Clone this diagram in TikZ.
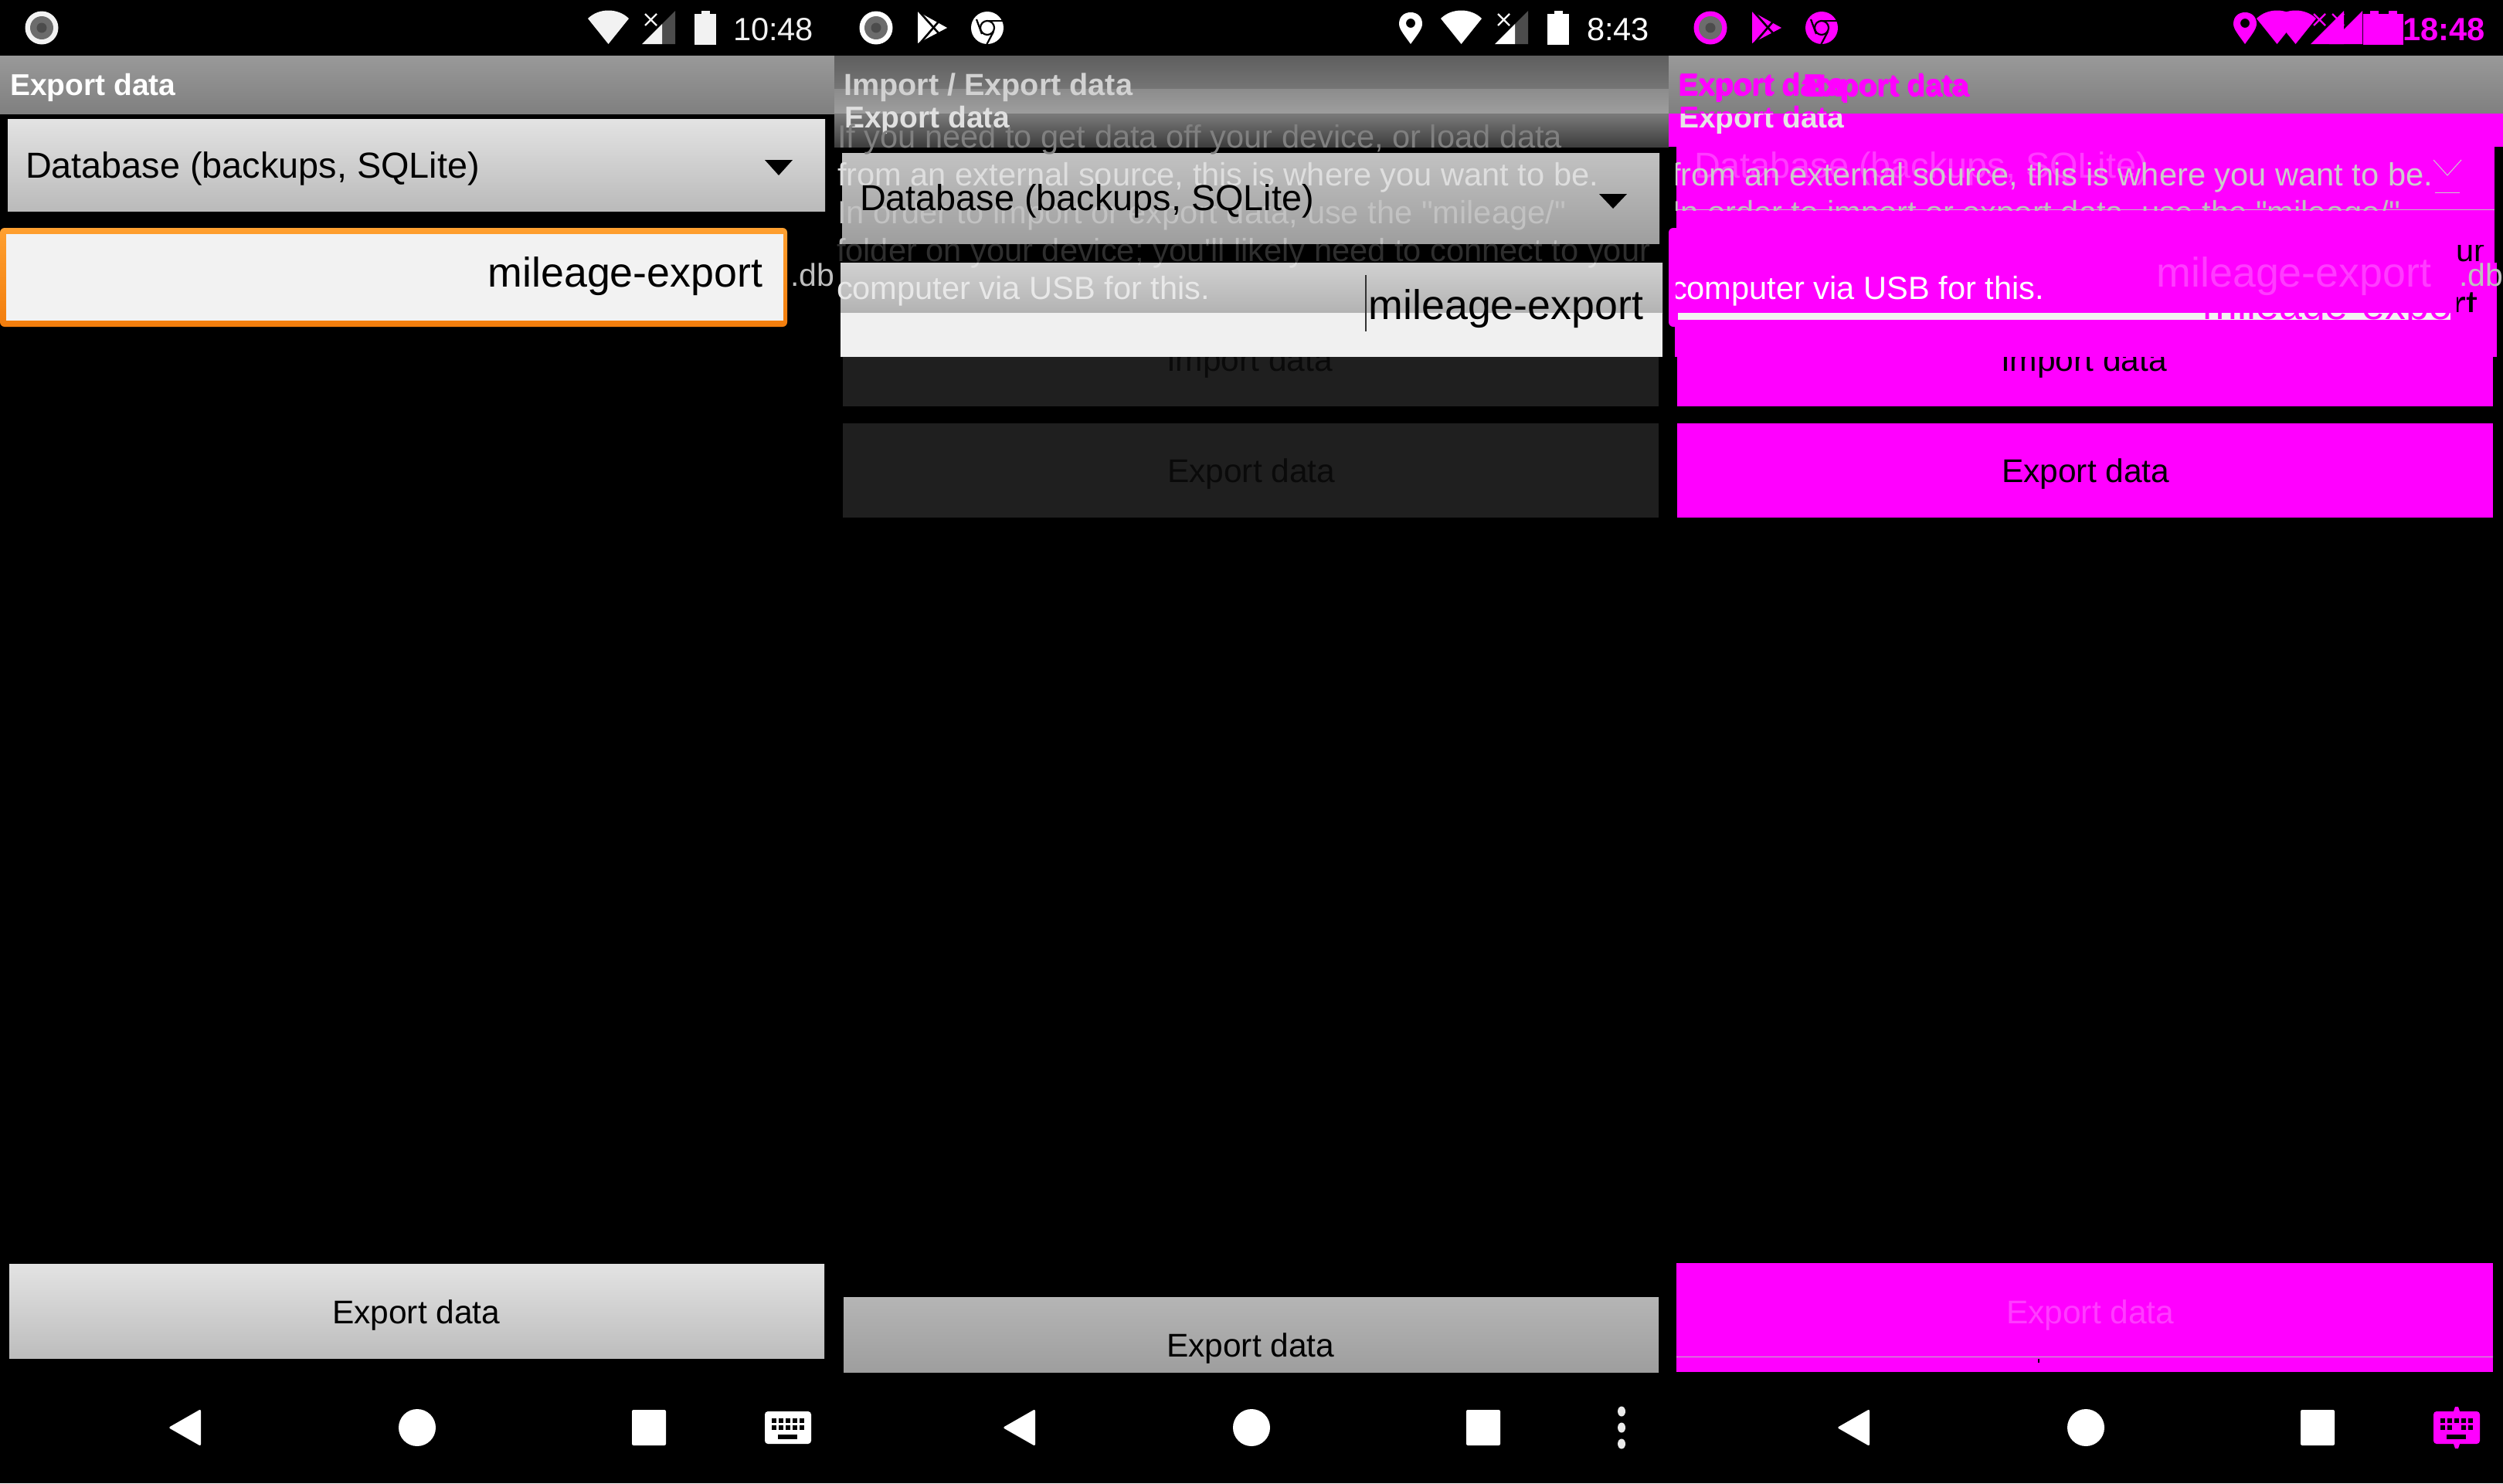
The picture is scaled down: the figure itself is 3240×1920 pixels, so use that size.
\documentclass[tikz,border=0pt]{standalone}
\usepackage{fontspec}
\setmainfont{Liberation Sans}
\newfontfamily\rb{Liberation Sans}
\newcommand\fsz[1]{\fontsize{#1}{#1}\selectfont\rb}
\definecolor{mg}{HTML}{FF00FF}
\definecolor{pale}{HTML}{FF3CFF}
\definecolor{pagr}{HTML}{F2F2F2}
\definecolor{orgtop}{HTML}{FFA030}
\definecolor{orgbot}{HTML}{F27D0C}
\tikzset{
  txt/.style={inner sep=0pt,outer sep=0pt,anchor=base west},
  txr/.style={inner sep=0pt,outer sep=0pt,anchor=base east},
  sm/.style={txt,font=\fsz{41.6}},
  btnt/.style={txt,font=\fsz{42.5}},
  big/.style={txr,font=\fsz{53.7}},
  spin/.style={txt,font=\fsz{46.8}},
  ttl/.style={txt,font=\fsz{39}\bfseries},
  clk/.style={txt,font=\fsz{41.6}},
}
% status-bar icons: #1 left x, #2 colour
\newcommand\recicon[2]{%
  \fill[#2] (#1,36) circle (21.5);
  \fill[gray!85!black] (#1,36) circle (15);
  \fill[black!70] (#1,36) circle (6.5);}
\newcommand\playicon[2]{%
  \fill[#2,line join=round] (#1,15) -- (#1+38,36) -- (#1,56) -- cycle;
  \draw[black,line width=2.6] (#1+1,14) -- (#1+27,43);
  \draw[black,line width=2.6] (#1+2,57) -- (#1+27,28);}
\newcommand\chromeicon[2]{%
  \fill[#2] (#1,36) circle (21);
  \draw[black,line width=2.2] (#1,36) circle (9);
  \draw[black,line width=2.2] (#1-14,-11+36) -- (#1-7,8+36);
  \draw[black,line width=2.2] (#1+1,-9+36) -- (#1+20,-9+36);
  \draw[black,line width=2.2] (#1+8,5+36) -- (#1-1,22+36);}
\newcommand\pinicon[2]{%
  \fill[#2,even odd rule] (#1+15,57) .. controls (#1+8,47) and (#1,38) .. (#1,31)
     .. controls (#1,21) and (#1+7,16) .. (#1+15,16)
     .. controls (#1+23,16) and (#1+30,21) .. (#1+30,31)
     .. controls (#1+30,38) and (#1+22,47) .. (#1+15,57) -- cycle
     (#1+15,30) circle (6);}
\newcommand\wifiicon[2]{%
  \fill[#2] (#1+26.5,57) -- (#1,24) .. controls (#1+14,10) and (#1+39,10) .. (#1+53,24) -- cycle;}
\newcommand\sigicon[3]{% left x, main colour, dark colour
  \fill[#3] (#1+26,31) -- (#1+43,14) -- (#1+43,57) -- (#1+26,57) -- cycle;
  \fill[#2] (#1,57) -- (#1+26,31) -- (#1+26,57) -- cycle;
  \draw[#2,line width=2.2] (#1+4,18) -- (#1+19,33) (#1+19,18) -- (#1+4,33);}
\newcommand\baticon[2]{%
  \fill[#2] (#1,18) rectangle (#1+28,58);
  \fill[#2] (#1+9,14) rectangle (#1+20,18);}
% navigation bar: #1 x offset
\newcommand\navbar[1]{%
  \fill[white,rounded corners=2.5] (#1+260,1824) -- (#1+218,1848) -- (#1+260,1872) -- cycle;
  \fill[white] (#1+540,1848) circle (24);
  \fill[white,rounded corners=2] (#1+818,1825) rectangle (#1+862,1871);}
\begin{document}
\begin{tikzpicture}[x=1pt,y=-1pt]
\useasboundingbox (0,0) rectangle (3240,1920);
\fill[black] (0,0) rectangle (3240,1920);

%%%%%%%%%%%%%%% PANEL 1
\recicon{54}{pagr}
\wifiicon{761}{pagr}
\sigicon{831}{pagr}{black!70}
\baticon{899}{pagr}
\node[clk,text=pagr] (t1) at (949,52) {10:48};
\fill[top color=black!40,bottom color=black!50] (0,72) rectangle (1080,147);
\node[ttl,text=white] (h1) at (13,123) {Export data};
\fill[top color=black!11,bottom color=black!27] (10,154) rectangle (1068,273);
\node[spin] (s1) at (33,230) {Database (backups, SQLite)};
\fill[black] (990,207) -- (1026,207) -- (1008,227) -- cycle;
\fill[top color=orgtop,bottom color=orgbot,rounded corners=6] (0,295) rectangle (1019,423);
\fill[pagr] (8,303) rectangle (1014,415);
\node[big] (m1) at (987,371) {mileage-export};
\node[txt,font=\fsz{41},text=black!25] (d1) at (1023,370) {.db};
\fill[top color=black!11,bottom color=black!26] (12,1636) rectangle (1067,1758);
\node[btnt] (b1) at (430,1713) {Export data};
\navbar{0}
\fill[white,rounded corners=4] (990,1827) rectangle (1050,1869);
\foreach \i in {0,...,4}{
  \fill[black] (999+\i*9,1836) rectangle (1005+\i*9,1842);
  \fill[black] (999+\i*9,1845) rectangle (1005+\i*9,1851);}
\fill[black] (1007,1857) rectangle (1032,1863);

%%%%%%%%%%%%%%% PANEL 2
\recicon{1134}{white}
\playicon{1188}{white}
\chromeicon{1278}{white}
\pinicon{1811}{white}
\wifiicon{1865}{white}
\sigicon{1935}{white}{black!70}
\baticon{2003}{white}
\node[clk,text=white] (t2) at (2054,52) {8:43};
\fill[top color=black!63,bottom color=black!54] (1080,72) rectangle (2160,115);
\fill[top color=black!45,bottom color=black!38] (1080,115) rectangle (2160,147);
\fill[top color=black!52,bottom color=black!76] (1080,147) rectangle (2160,190);
\node[txt,font=\fsz{39.6}\bfseries,text=black!18] (h2) at (1092,123) {Import / Export data};
\node[ttl,text=black!12] (h2b) at (1093,165) {Export data};
\fill[top color=black!24,bottom color=black!38] (1090,198) rectangle (2148,315);
% dim buttons
\fill[black!88] (1091,404) rectangle (2147,526);
\node[btnt,text=black!96] (i2) at (1510,480) {Import data};
\fill[black!88] (1091,548) rectangle (2147,670);
\node[btnt,text=black!96] (e2) at (1511,624) {Export data};
\fill[top color=black!18,bottom color=black!30] (1088,340) rectangle (2152,405);
\fill[black!6] (1088,405) rectangle (2152,462);
% faded help text
\node[sm,text=black!50] (l1) at (1084,191) {If you need to get data off your device, or load data};
\node[sm,text=black!13] (l2) at (1084,240) {from an external source, this is where you want to be.};
\node[sm,text=black!24] (l3) at (1084,289) {In order to import or export data, use the "mileage/"};
\begin{scope}
  \clip (1080,315) rectangle (2160,340);
  \node[sm,text=black!82] (l4a) at (1083,338) {folder on your device; you'll likely need to connect to your};
\end{scope}
\begin{scope}
  \clip (1080,290) rectangle (2160,315);
  \node[sm,text=black!25] (l4b) at (1083,338) {folder on your device; you'll likely need to connect to your};
\end{scope}
\begin{scope}
  \clip (1080,340) rectangle (2160,360);
  \node[sm,text=black!12] (l4c) at (1083,338) {folder on your device; you'll likely need to connect to your};
\end{scope}
\node[sm,text=black!9] (l5) at (1083,387) {computer via USB for this.};
\node[spin] (s2) at (1113,272) {Database (backups, SQLite)};
\fill[black] (2070,251) -- (2106,251) -- (2088,270) -- cycle;
\node[big] (m2) at (2127,413) {mileage-export};
\draw[black!80,line width=1.5] (1768,356) -- (1768,429);
\fill[top color=black!29,bottom color=black!38] (1092,1679) rectangle (2147,1776);
\node[btnt] (b2) at (1510,1756) {Export data};
\navbar{1080}
\foreach \yy in {1827,1848,1869}{\fill[black!8] (2099,\yy) ellipse (5 and 6.5);}

%%%%%%%%%%%%%%% PANEL 3
\recicon{2214}{mg}
\playicon{2268}{mg}
\chromeicon{2358}{mg}
\pinicon{2891}{mg}
\wifiicon{2921}{mg}
\wifiicon{2945}{mg}
\sigicon{2991}{mg}{mg}
\sigicon{3015}{mg}{mg}
\baticon{3059}{mg}
\baticon{3083}{mg}
\node[txt,font=\fsz{41.6}\bfseries,text=mg] (t3) at (3110,52) {18:48};
\fill[top color=black!40,bottom color=black!50] (2160,72) rectangle (3240,147);
\node[ttl,text=mg] (h3a) at (2172,124) {Export data};
\node[ttl,text=mg] (h3a2) at (2173.5,122) {Export data};
\node[ttl,text=mg] (h3b) at (2334,123) {Export data};
\node[ttl,text=mg] (h3b2) at (2335.5,125) {Export data};
\begin{scope}
  \clip (2160,130) rectangle (3240,147);
  \node[ttl,text=mg] (h3c) at (2173,165) {Export data};
\end{scope}
% magenta union
\fill[mg] (2160,147) rectangle (3240,190);
\fill[mg] (2170,154) rectangle (3229,317);
\fill[mg,rounded corners=6] (2160,295) rectangle (3179,423);
\fill[mg] (2168,340) rectangle (3232,462);
\fill[mg] (3179,317) rectangle (3229,340);
\fill[mg] (2171,404) rectangle (3227,526);
\fill[mg] (2171,548) rectangle (3227,670);
\begin{scope}
  \clip (2160,147) rectangle (3240,190);
  \node[ttl,text=black!10] (h3d) at (2173,165) {Export data};
\end{scope}
\node[spin,text=pale] (s3) at (2193,230) {Database (backups, SQLite)};
\begin{scope}
  \clip (2169,190) rectangle (3229,270);
  \node[sm,text=black!20] (l32) at (2164,240) {from an external source, this is where you want to be.};
\end{scope}
\begin{scope}
  \clip (2169,258) rectangle (3229,272);
  \node[sm,text=black!25] (l33) at (2164,289) {In order to import or export data, use the "mileage/"};
\end{scope}
\draw[black!25,line width=1] (2170,271) -- (3229,271);
\draw[black!20,line width=1] (3150,207) -- (3168,227) -- (3186,207);
\draw[black!20,line width=1] (3152,249) -- (3184,249);
\node[big,text=pale] (m3) at (3147,371) {mileage-export};
\node[txt,font=\fsz{41},text=black!25] (d3) at (3183,370) {.db};
\begin{scope}
  \clip (3180,317) rectangle (3229,340);
  \node[sm] (l34) at (2163,338) {folder on your device; you'll likely need to connect to your};
\end{scope}
\begin{scope}
  \clip (3180,378) rectangle (3229,403);
  \node[big] (m3c) at (3207,413) {mileage-export};
\end{scope}
\begin{scope}
  \clip (2169,340) rectangle (3179,404);
  \node[sm,text=white] (l35) at (2163,387) {computer via USB for this.};
\end{scope}
\fill[pagr] (2172,405) rectangle (3172,414);
\begin{scope}
  \clip (2172,405) rectangle (3172,414);
  \node[big,text=mg] (m3b) at (3207,413) {mileage-export};
\end{scope}
\begin{scope}
  \clip (2171,462) rectangle (3227,526);
  \node[btnt] (i3) at (2590,480) {Import data};
\end{scope}
\node[btnt] (e3) at (2591,624) {Export data};
\fill[mg] (2170,1635) rectangle (3227,1776);
\draw[black!25,line width=1] (2170,1756) -- (3227,1756);
\node[btnt,text=pale] (b3) at (2597,1713) {Export data};
\fill[black] (2638,1759) rectangle (2640,1764);
\navbar{2160}
\fill[mg,rounded corners=4] (3150,1827) rectangle (3210,1869);
\fill[mg] (3176,1827) -- (3178,1821) -- (3182,1821) -- (3184,1827) -- cycle;
\fill[mg] (3176,1869) -- (3178,1875) -- (3182,1875) -- (3184,1869) -- cycle;
\foreach \i in {0,...,4}{\fill[black] (3159+\i*9,1836) rectangle (3165+\i*9,1842);}
\foreach \i in {0,1,3,4}{\fill[black] (3159+\i*9,1845) rectangle (3165+\i*9,1851);}
\fill[black] (3167,1857) rectangle (3192,1863);
\end{tikzpicture}
\end{document}
